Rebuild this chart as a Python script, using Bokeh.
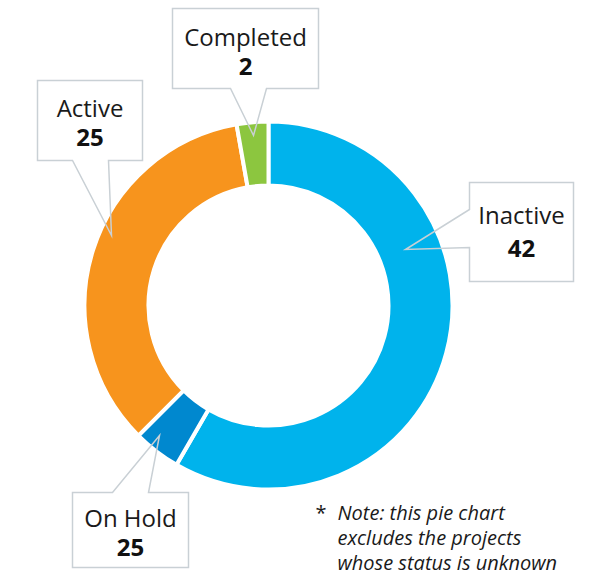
import math
from bokeh.plotting import figure
from bokeh.models import Range1d, ColumnDataSource
from bokeh.core.properties import value
from bokeh.embed import file_html
from bokeh.resources import INLINE

# ---- data ----
categories = ["Inactive", "On Hold", "Active", "Completed"]
slice_values = [42, 3, 25, 2]            # slice sizes as drawn
label_values = ["42", "25", "25", "2"]   # numbers as printed in the callouts
colors = ["#00b3ec", "#0088cf", "#f7941d", "#8cc63f"]
note_lines = ["Note: this pie chart", "excludes the projects", "whose status is unknown"]

W, H = 596, 576

def sx(x):
    return x

def sy(y):
    return H - y

p = figure(width=W, height=H, x_range=Range1d(0, W), y_range=Range1d(0, H),
           output_backend="svg", toolbar_location=None, min_border=0,
           x_axis_location=None, y_axis_location=None)
p.grid.visible = False
p.outline_line_color = None
p.background_fill_color = "white"
p.border_fill_color = "white"

# ---- donut ----
total = float(sum(slice_values))
starts, ends = [], []
cum = 0.0
for v in slice_values:
    starts.append(math.pi / 2 - 2 * math.pi * cum / total)
    cum += v
    ends.append(math.pi / 2 - 2 * math.pi * cum / total)

src = ColumnDataSource(dict(cat=categories, start=starts, end=ends, color=colors))
cx, cy = sx(268), sy(305)
p.annular_wedge(x=cx, y=cy, inner_radius=120, outer_radius=184,
                start_angle="start", end_angle="end", direction="clock",
                fill_color="color", line_color="white", line_width=4, source=src)

# ---- callouts (screen-pixel layout) ----
callouts = {
    "Completed": dict(path=[(172, 8), (318, 8), (318, 88), (266, 88), (253, 135), (230, 88), (172, 88)],
                      cx=245, base1=36, base2=66),
    "Active": dict(path=[(37, 80), (142, 80), (142, 160), (108, 160), (111, 235), (72, 160), (37, 160)],
                   cx=89.5, base1=107, base2=137),
    "Inactive": dict(path=[(469, 182), (573, 182), (573, 281), (469, 281), (469, 247), (405, 249), (469, 209)],
                     cx=521, base1=214, base2=248),
    "On Hold": dict(path=[(72, 492), (112, 492), (159, 435), (148, 492), (188, 492), (188, 567), (72, 567)],
                    cx=130, base1=517, base2=547),
}

xs, ys = [], []
for cat in categories:
    path = callouts[cat]["path"]
    xs.append([sx(a) for a, b in path])
    ys.append([sy(b) for a, b in path])
p.patches(xs, ys, fill_alpha=0, line_color="#c9d0d5", line_width=1.5, line_join="miter")

names_x = [sx(callouts[c]["cx"]) for c in categories]
p.text(x=names_x, y=[sy(callouts[c]["base1"]) for c in categories], text=categories,
       text_font=value("Open Sans"), text_font_size="24px", text_color="#1a1a1a",
       text_align="center", text_baseline="alphabetic")
p.text(x=names_x, y=[sy(callouts[c]["base2"]) for c in categories], text=label_values,
       text_font=value("Open Sans"), text_font_size="24px", text_font_style="bold",
       text_color="#111111", text_align="center", text_baseline="alphabetic")

# ---- note ----
p.text(x=[sx(315)], y=[sy(512)], text=["*"], text_font=value("Open Sans"),
       text_font_size="20px", text_color="#1a1a1a", text_baseline="alphabetic")
p.text(x=[sx(337)] * 3, y=[sy(512), sy(537), sy(562)], text=note_lines,
       text_font=value("Open Sans"), text_font_size="20px", text_font_style="italic",
       text_color="#1a1a1a", text_baseline="alphabetic")

open("out.html", "w").write(file_html(p, INLINE))
